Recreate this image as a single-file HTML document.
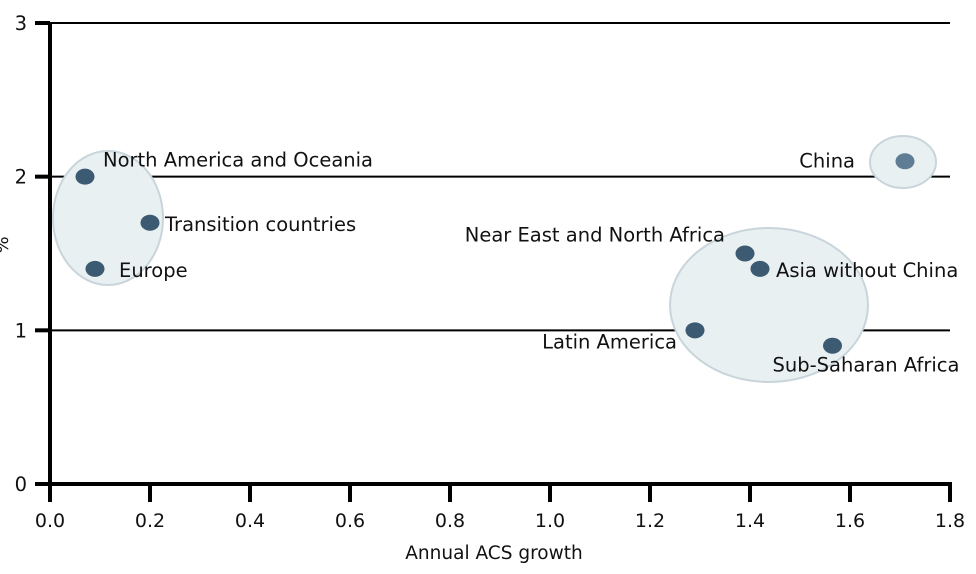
<!DOCTYPE html>
<html><head><meta charset="utf-8"><style>
body{margin:0;background:#fff}
svg text{font-family:"DejaVu Sans","Liberation Sans",sans-serif;fill:#111}
</style></head><body>
<svg width="976" height="569" xmlns="http://www.w3.org/2000/svg">
<g id="grid"></g>
<g id="ell"></g>
<g id="axes"></g>
<g id="pts"></g>
<text x="494" y="559" text-anchor="middle" font-size="18.5">Annual ACS growth</text>
<text transform="translate(8,245) rotate(-90)" text-anchor="middle" font-size="18">%</text>
</svg>
<script>
const names=["North America and Oceania","Transition countries","Europe","China","Near East and North Africa","Asia without China","Latin America","Sub-Saharan Africa"];
const xVals=[0.07,0.2,0.09,1.71,1.39,1.42,1.29,1.565];
const yVals=[2.0,1.7,1.4,2.1,1.5,1.4,1.0,0.9];
const xTicks=["0.0","0.2","0.4","0.6","0.8","1.0","1.2","1.4","1.6","1.8"];
const yTicks=["0","1","2","3"];
const X=v=>50+v*500, Y=v=>484-v*153.67;
const NS="http://www.w3.org/2000/svg";
function mk(p,t,a){const e=document.createElementNS(NS,t);for(const k in a)e.setAttribute(k,a[k]);p.appendChild(e);return e;}
const grid=document.getElementById('grid'),axes=document.getElementById('axes'),ell=document.getElementById('ell'),pts=document.getElementById('pts');
yTicks.forEach(t=>{const v=+t,y=Y(v);
 if(v>0){const g=mk(grid,'line',{x1:50,x2:950,y1:y,y2:y,stroke:'#000','stroke-width':2});
 
 }
 const tk=mk(axes,'line',{x1:35,x2:50,y1:y,y2:y,stroke:'#000','stroke-width':4});
 
 
 const tx=mk(axes,'text',{x:27,y:y+7,'text-anchor':'end','font-size':19.5});tx.textContent=t;
 
 
});
xTicks.forEach(t=>{const x=X(+t);
 const tk=mk(axes,'line',{x1:x,x2:x,y1:484,y2:502,stroke:'#000','stroke-width':4});
 
 
 const tx=mk(axes,'text',{x:x,y:527,'text-anchor':'middle','font-size':19});tx.textContent=t;
 
 
});
const ya=mk(axes,'line',{x1:50,x2:50,y1:22,y2:486,stroke:'#000','stroke-width':4});


const xa=mk(axes,'line',{x1:35,x2:952,y1:484,y2:484,stroke:'#000','stroke-width':4});


[[108,218,55,67],[903,162,33,26],[769,305,99,77]].forEach((c,i)=>{
 const e=mk(ell,'ellipse',{cx:c[0],cy:c[1],rx:c[2],ry:c[3],fill:'#e8f0f2',stroke:'#c9d5db','stroke-width':2});
 
 
});
const lab=[[18,-10,'start'],[15,8,'start'],[24,8,'start'],[-50,6,'end'],[-20,-12,'end'],[16,8,'start'],[-18,18,'end'],[-60,26,'start']];
names.forEach((n,i)=>{const x=X(xVals[i]),y=Y(yVals[i]);
 const d=mk(pts,'ellipse',{cx:x,cy:y,rx:9.5,ry:8,fill:i==3?'#5f7d94':'#3d5a73'});
 
 
 const t=mk(pts,'text',{x:x+lab[i][0],y:y+lab[i][1],'text-anchor':lab[i][2],'font-size':19.5});t.textContent=n;
 
 
});
</script>
</body></html>
